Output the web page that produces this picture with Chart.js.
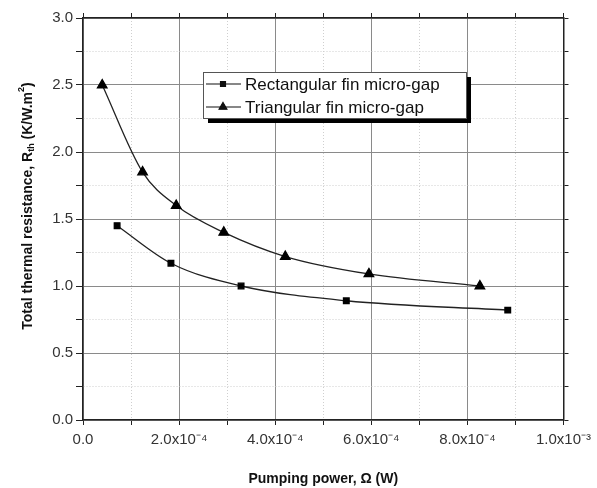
<!DOCTYPE html>
<html>
<head>
<meta charset="utf-8">
<script src="https://cdn.jsdelivr.net/npm/chart.js@4/dist/chart.umd.min.js"></script>
<style>
  html, body { margin: 0; padding: 0; background: #fff; }
  #wrap { width: 597px; height: 488px; }
</style>
</head>
<body>
<div id="wrap"><canvas id="c" width="597" height="488"></canvas></div>
<script>
// Pumping power (W) and total thermal resistance (K/W.m^2)
const rectPower = [7.1e-5, 1.83e-4, 3.29e-4, 5.48e-4, 8.84e-4];
const rectRth   = [1.45, 1.17, 1.00, 0.89, 0.82];
const triPower  = [4.0e-5, 1.24e-4, 1.94e-4, 2.93e-4, 4.21e-4, 5.95e-4, 8.26e-4];
const triRth    = [2.50, 1.85, 1.60, 1.40, 1.22, 1.09, 1.00];

const seriesLabels = ['Rectangular fin micro-gap', 'Triangular fin micro-gap'];
const xTickLabels = ['0.0', '2.0x10\u207B\u2074', '4.0x10\u207B\u2074', '6.0x10\u207B\u2074', '8.0x10\u207B\u2074', '1.0x10\u207B\u00B3'];
const yTickLabels = ['0.0', '0.5', '1.0', '1.5', '2.0', '2.5', '3.0'];
const xTitle = 'Pumping power, \u03A9 (W)';

const FONT = '"Liberation Sans", Arial, sans-serif';
const toPoints = (xs, ys) => xs.map((x, i) => ({ x: x, y: ys[i] }));

const isMajor = ctx => ctx.index !== undefined && ctx.index % 2 === 0;
const gridColor = ctx => isMajor(ctx) ? '#8a8a8a' : '#cfcfcf';
const gridDash = ctx => (ctx.index === undefined || isMajor(ctx)) ? [] : [1, 2];

// Rotated y title with subscript and superscript
const yTitlePlugin = {
  id: 'yTitle',
  afterDraw(chart) {
    const ctx = chart.ctx;
    const parts = [
      { t: 'Total thermal resistance, R', size: 14, dy: 0 },
      { t: 'th', size: 9, dy: 4 },
      { t: ' (K/W.m', size: 14, dy: 0 },
      { t: '2', size: 9, dy: -6 },
      { t: ')', size: 14, dy: 0 }
    ];
    ctx.save();
    let total = 0;
    parts.forEach(p => { ctx.font = 'bold ' + p.size + 'px ' + FONT; p.w = ctx.measureText(p.t).width; total += p.w; });
    ctx.translate(28, 206);
    ctx.rotate(-Math.PI / 2);
    ctx.fillStyle = '#111';
    ctx.textBaseline = 'middle';
    let x = -total / 2;
    parts.forEach(p => {
      ctx.font = 'bold ' + p.size + 'px ' + FONT;
      ctx.fillText(p.t, x, p.dy);
      x += p.w;
    });
    ctx.restore();
  }
};

// Boxed legend with drop shadow inside the plot
const boxLegendPlugin = {
  id: 'boxLegend',
  afterDraw(chart) {
    const ctx = chart.ctx;
    const L = 203, T = 72, W = 263, H = 46;
    ctx.save();
    ctx.fillStyle = '#000';
    ctx.fillRect(L + 5, T + H, W, 5);
    ctx.fillRect(L + W, T + 5, 5, H);
    ctx.fillStyle = '#fff';
    ctx.fillRect(L, T, W, H);
    ctx.strokeStyle = '#555';
    ctx.lineWidth = 1;
    ctx.strokeRect(L + 0.5, T + 0.5, W, H);
    chart.data.datasets.forEach((ds, i) => {
      const cy = T + 12 + i * 23;
      ctx.strokeStyle = '#111';
      ctx.lineWidth = 1.2;
      ctx.beginPath();
      ctx.moveTo(L + 3, cy);
      ctx.lineTo(L + 38, cy);
      ctx.stroke();
      Chart.helpers.drawPoint(ctx, { pointStyle: ds.pointStyle, radius: ds.pointStyle === 'rect' ? 3.5 : 4.5, borderWidth: 1 }, L + 20, cy);
      ctx.fillStyle = '#111';
      ctx.fill();
      ctx.font = '17px ' + FONT;
      ctx.textBaseline = 'middle';
      ctx.fillText(ds.label, L + 42, cy + 1);
    });
    ctx.restore();
  }
};

new Chart(document.getElementById('c'), {
  type: 'scatter',
  data: {
    datasets: [
      {
        label: seriesLabels[0],
        data: toPoints(rectPower, rectRth),
        showLine: true,
        cubicInterpolationMode: 'monotone',
        borderColor: '#222',
        borderWidth: 1.3,
        pointStyle: 'rect',
        pointRadius: 4,
        pointBackgroundColor: '#000',
        pointBorderColor: '#000'
      },
      {
        label: seriesLabels[1],
        data: toPoints(triPower, triRth),
        showLine: true,
        cubicInterpolationMode: 'monotone',
        borderColor: '#222',
        borderWidth: 1.3,
        pointStyle: 'triangle',
        pointRadius: 5.5,
        pointBackgroundColor: '#000',
        pointBorderColor: '#000'
      }
    ]
  },
  options: {
    responsive: false,
    animation: false,
    layout: { padding: { left: 0, right: 22, top: 10, bottom: 0 } },
    plugins: { legend: { display: false }, tooltip: { enabled: false } },
    scales: {
      x: {
        type: 'linear', position: 'bottom', min: 0, max: 1e-3,
        afterFit(s) { s.height = 68; },
        ticks: {
          stepSize: 1e-4, autoSkip: false, maxRotation: 0, padding: 6,
          color: '#333', font: { family: FONT, size: 15 },
          callback(v) { const k = Math.round(v / 1e-4); return k % 2 === 0 ? xTickLabels[k / 2] : ''; }
        },
        grid: { color: gridColor, lineWidth: 1, tickColor: '#222', tickLength: 5, drawTicks: true },
        border: { color: '#222', width: 1.5, dash: gridDash },
        title: { display: true, text: xTitle, color: '#111', font: { family: FONT, size: 14, weight: 'bold' }, padding: { top: 0, bottom: 0 } }
      },
      x2: {
        type: 'linear', position: 'top', min: 0, max: 1e-3,
        afterFit(s) { s.height = 8; },
        ticks: { stepSize: 1e-4, display: false },
        grid: { drawOnChartArea: false, tickColor: '#222', tickLength: 5 },
        border: { color: '#222', width: 1.5 }
      },
      y: {
        type: 'linear', position: 'left', min: 0, max: 3,
        afterFit(s) { s.width = 83; },
        ticks: {
          stepSize: 0.25, autoSkip: false, padding: 3,
          color: '#333', font: { family: FONT, size: 15 },
          callback(v) { const k = Math.round(v / 0.25); return k % 2 === 0 ? yTickLabels[k / 2] : ''; }
        },
        grid: { color: gridColor, lineWidth: 1, tickColor: '#222', tickLength: 7 },
        border: { color: '#222', width: 1.5, dash: gridDash }
      },
      y2: {
        type: 'linear', position: 'right', min: 0, max: 3,
        afterFit(s) { s.width = 8; },
        ticks: { stepSize: 0.25, display: false },
        grid: { drawOnChartArea: false, tickColor: '#222', tickLength: 5 },
        border: { color: '#222', width: 1.5 }
      }
    }
  },
  plugins: [yTitlePlugin, boxLegendPlugin]
});
</script>
</body>
</html>
